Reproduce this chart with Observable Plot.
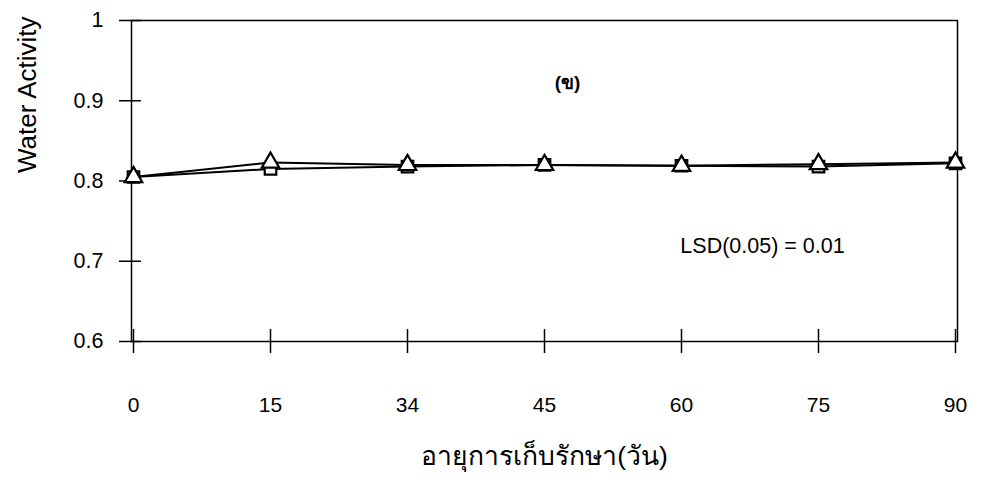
<!DOCTYPE html>
<html><head><meta charset="utf-8">
<script src="https://cdn.jsdelivr.net/npm/d3@7"></script>
<script src="https://cdn.jsdelivr.net/npm/@observablehq/plot@0.6"></script>
<style>
body{margin:0;background:#fff}
svg{font-family:"Liberation Sans",Arial,sans-serif}
</style>
</head><body><div id="chart"></div>
<script>
const days = ["0","15","34","45","60","75","90"];
const triangleSeries = [0.805, 0.823, 0.820, 0.820, 0.819, 0.821, 0.823];
const squareSeries = [0.805, 0.815, 0.818, 0.820, 0.819, 0.818, 0.822];
const yTicks = [0.6, 0.7, 0.8, 0.9, 1];
const yTickLabels = ["0.6", "0.7", "0.8", "0.9", "1"];
const yLabel = "Water Activity";
const xLabel = "อายุการเก็บรักษา(วัน)";
const panelLabel = "(ข)";
const lsdLabel = "LSD(0.05) = 0.01";

const tri = days.map((d,i)=>({day:d, v:triangleSeries[i]}));
const sq = days.map((d,i)=>({day:d, v:squareSeries[i]}));
const yTickData = yTicks.map((v,i)=>({v, label: yTickLabels[i]}));

const W = 986, H = 483, mL = 131, mR = 29, mT = 20, mB = 142;
const innerW = W - mL - mR;

const chart = Plot.plot({
  width: W, height: H,
  marginLeft: mL, marginRight: mR, marginTop: mT, marginBottom: mB,
  x: {type: "point", domain: days, padding: 0, label: null, axis: null},
  y: {domain: [0.6, 1], label: null, axis: null},
  style: {color: "#000", background: "#fff"},
  marks: [
    Plot.frame({stroke: "#000", strokeWidth: 1.5}),
    Plot.text(yTickData, {y: "v", text: "label", frameAnchor: "left", dx: -28, textAnchor: "end", fontSize: 21.5}),
    Plot.text(days, {x: d => d, text: d => d, frameAnchor: "bottom", dy: 70, fontSize: 21}),
    Plot.ruleY(yTicks, {y: d => d, stroke: "#000", strokeWidth: 1.5, insetLeft: -12, insetRight: innerW - 10}),
    Plot.ruleX(days, {x: d => d, y1: 0.585, y2: 0.615, stroke: "#000", strokeWidth: 1.5}),
    Plot.line(sq, {x: "day", y: "v", stroke: "#000", strokeWidth: 2}),
    Plot.line(tri, {x: "day", y: "v", stroke: "#000", strokeWidth: 2}),
    Plot.dot(sq, {x: "day", y: "v", symbol: "square", r: 6.5, fill: "#fff", stroke: "#000", strokeWidth: 2.2}),
    Plot.dot(tri, {x: "day", y: "v", symbol: "triangle", r: 6.5, fill: "#fff", stroke: "#000", strokeWidth: 2.2}),
    Plot.text([panelLabel], {frameAnchor: "top", dx: 23, dy: 55, fontSize: 19, fontWeight: "bold"}),
    Plot.text([lsdLabel], {frameAnchor: "middle", dx: 218, dy: 65, fontSize: 21.5}),
    Plot.text([xLabel], {frameAnchor: "bottom", dy: 123, fontSize: 26.5}),
    Plot.text([yLabel], {frameAnchor: "left", dx: -104, dy: -8, rotate: -90, fontSize: 26})
  ]
});
document.getElementById("chart").appendChild(chart);
</script></body></html>
